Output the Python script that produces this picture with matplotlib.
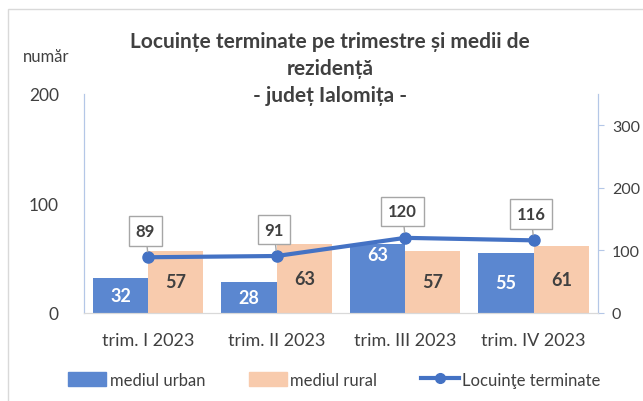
import matplotlib.pyplot as plt
import numpy as np
from matplotlib.patches import Rectangle
from matplotlib.lines import Line2D

plt.rcParams['font.family'] = ['Lato', 'DejaVu Sans']

categories = ['trim. I 2023', 'trim. II 2023', 'trim. III 2023', 'trim. IV 2023']
urban = [32, 28, 63, 55]
rural = [57, 63, 57, 61]
total = [89, 91, 120, 116]

c_urban = '#5B87D0'
c_rural = '#F8CBAD'
c_line = '#4472C4'
c_spine = '#B4C7E7'
c_text = '#404040'

fig = plt.figure(figsize=(6.43, 4.02), dpi=100)
fig.patches.append(Rectangle((0.012, -0.05), 1.1, 1.025, transform=fig.transFigure,
                             fill=False, edgecolor='#D9D9D9', lw=1))
ax = fig.add_axes([0.1306, 0.219, 0.7994, 0.545])
ax2 = ax.twinx()

x = np.arange(len(categories))
w = 0.43
b1 = ax.bar(x - w / 2, urban, w, color=c_urban, zorder=2)
b2 = ax.bar(x + w / 2, rural, w, color=c_rural, zorder=2)
ax.set_xlim(-0.5, 3.5)
ax.set_ylim(0, 200)
ax.set_yticks([0, 100, 200])
ax.set_xticks(x)
ax.set_xticklabels(categories, fontsize=13, color=c_text)
ax.tick_params(axis='x', length=0, pad=14)
ax.tick_params(axis='y', length=0, pad=18, labelsize=12.5, labelcolor=c_text)

for i, (r, v) in enumerate(zip(b1, urban)):
    yy = v - 10 if v == max(urban) else v / 2
    ax.text(r.get_x() + r.get_width() / 2, yy, str(v), ha='center', va='center',
            color='white', fontsize=13, fontweight='bold')
for r, v in zip(b2, rural):
    ax.text(r.get_x() + r.get_width() / 2, v / 2, str(v), ha='center', va='center',
            color=c_text, fontsize=13, fontweight='bold')

ax2.plot(x, total, color=c_line, lw=3, marker='o', ms=8, zorder=3)
ax2.set_ylim(0, 350)
ax2.set_yticks([0, 100, 200, 300])
ax2.tick_params(axis='y', length=4, color=c_spine, pad=6, labelsize=11.5, labelcolor=c_text)
for xi, v in zip(x, total):
    ax2.annotate(str(v), xy=(xi, v), xytext=(-2, 19), textcoords='offset points',
                 ha='center', va='center', fontsize=12, fontweight='bold', color=c_text,
                 bbox=dict(boxstyle='square,pad=0.4', fc='white', ec='#A6A6A6', lw=1),
                 arrowprops=dict(arrowstyle='-', color='#A6A6A6', lw=1, shrinkA=0, shrinkB=4))

for a in (ax, ax2):
    a.spines['top'].set_visible(False)
    a.spines['left'].set_color(c_spine)
    a.spines['right'].set_color(c_spine)
    a.spines['bottom'].set_color('#D9D9D9')
ax.set_zorder(ax2.get_zorder() - 1)
ax2.patch.set_visible(False)
ax.patch.set_visible(False)

fig.text(0.513, 0.828, 'Locuințe terminate pe trimestre și medii de\nrezidență\n- județ Ialomița -',
         ha='center', va='center', fontsize=15, fontweight='bold', color=c_text, linespacing=1.45)
fig.text(0.072, 0.857, 'număr', ha='center', va='center', fontsize=12, color=c_text)

handles = [Rectangle((0, 0), 1, 1, color=c_urban), Rectangle((0, 0), 1, 1, color=c_rural),
           Line2D([], [], color=c_line, lw=3, marker='o', ms=7)]
fig.legend(handles, ['mediul urban', 'mediul rural', 'Locuinţe terminate'], loc='center',
           bbox_to_anchor=(0.52, 0.053), ncol=3, frameon=False, fontsize=12,
           handlelength=2.3, handleheight=0.9, columnspacing=2.6, handletextpad=0.2,
           labelcolor=c_text)

fig.savefig('out.png', dpi=100)
